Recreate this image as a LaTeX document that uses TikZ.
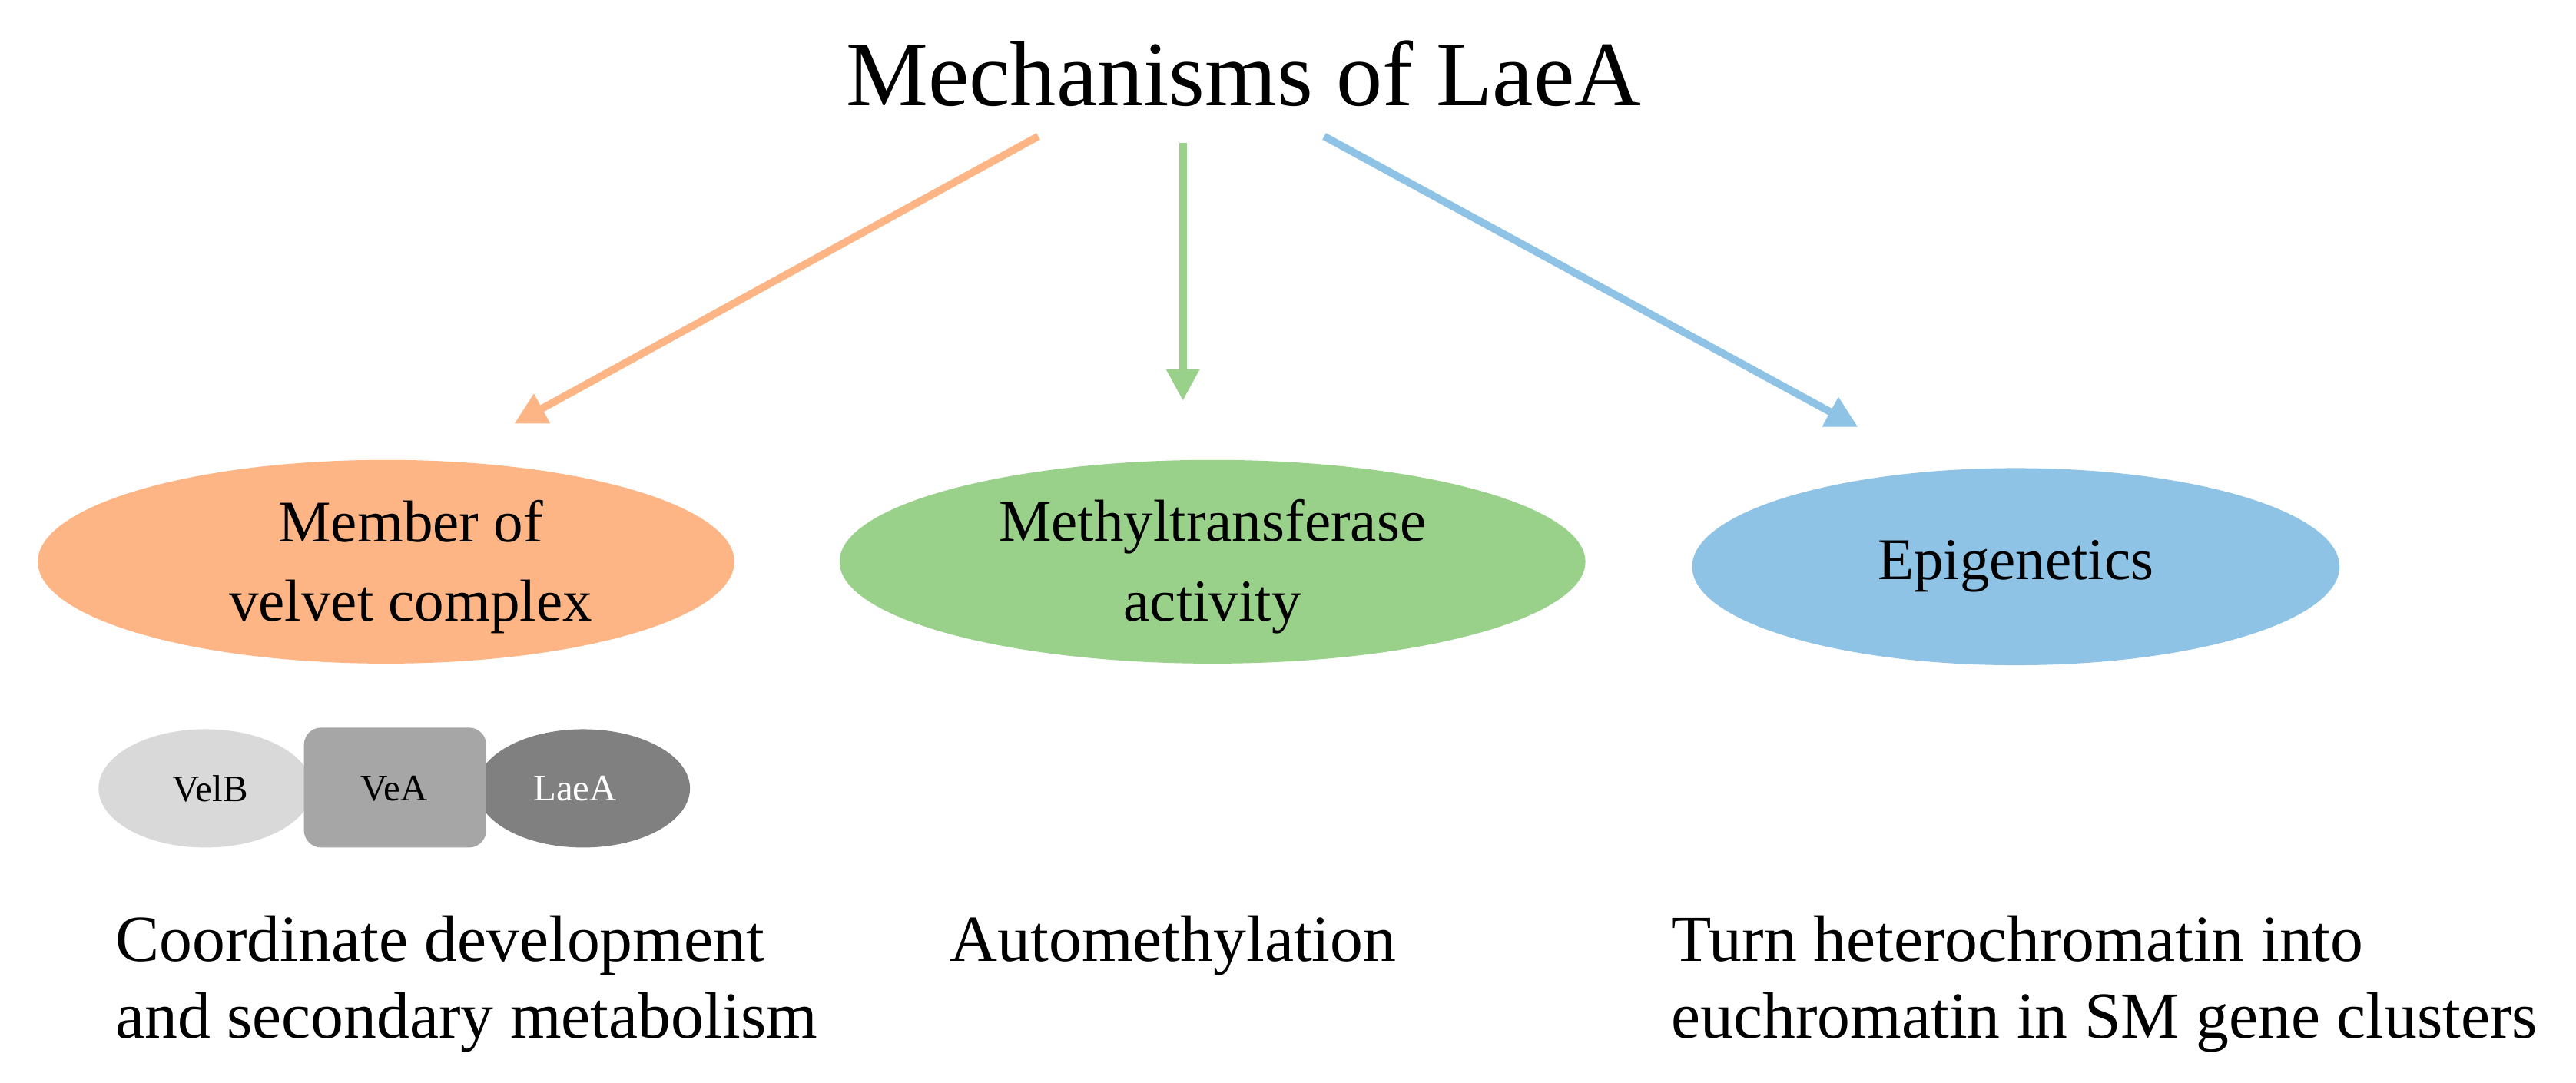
\documentclass[tikz,border=0pt]{standalone}
\usepackage{fontspec}
\setmainfont{Liberation Serif}
\usetikzlibrary{arrows.meta}
\definecolor{cor}{HTML}{FDB585}
\definecolor{cgr}{HTML}{99D18B}
\definecolor{cbl}{HTML}{8EC3E6}
\begin{document}
\begin{tikzpicture}[x=0.02cm,y=-0.02cm,
  arr/.style={line width=2.6pt,-{Triangle[length=11pt,width=11pt]}},
  big/.style={font=\fontsize{20.5}{27.5}\selectfont,align=center},
  txt/.style={font=\fontsize{22.8}{26.8}\selectfont,align=left,anchor=north west,inner sep=0pt},
  el/.style={ellipse,draw=none}]
\useasboundingbox (0,0) rectangle (1568,659);
\node[font=\fontsize{32}{36}\selectfont] (title) at (757,45) {Mechanisms of LaeA};
\coordinate (o1) at (632,83); \coordinate (o2) at (313,258);
\coordinate (g1) at (720,87); \coordinate (g2) at (720,244);
\coordinate (b1) at (806,83); \coordinate (b2) at (1131,260);
\draw[arr,cor] (o1) -- (o2);
\draw[arr,cgr] (g1) -- (g2);
\draw[arr,cbl] (b1) -- (b2);
\fill[cor] (235,342) ellipse [x radius=212,y radius=62];
\fill[cgr] (738,342) ellipse [x radius=227,y radius=62];
\fill[cbl] (1227,345) ellipse [x radius=197,y radius=60];
\node[big] (e1) at (250,345) {Member of\\velvet complex};
\node[big] (e2) at (738,345) {Methyltransferase\\activity};
\node[big] (e3) at (1227,345) {Epigenetics};
\fill[black!15] (125,480) ellipse [x radius=65,y radius=36];
\fill[black!50] (355,480) ellipse [x radius=65,y radius=36];
\fill[black!35,rounded corners=6pt] (185,443) rectangle (296,516);
\node[font=\fontsize{13}{15}\selectfont] (velb) at (128,480) {VelB};
\node[font=\fontsize{13}{15}\selectfont] (vea) at (240,480) {VeA};
\node[font=\fontsize{13}{15}\selectfont,text=white] (laea) at (350,480) {LaeA};
\node[txt] (t1) at (70,557) {Coordinate development\\and secondary metabolism};
\node[txt] (t2) at (578,557) {Automethylation};
\node[txt] (t3) at (1017,557) {Turn heterochromatin into\\euchromatin in SM gene clusters};
\end{tikzpicture}
\end{document}
